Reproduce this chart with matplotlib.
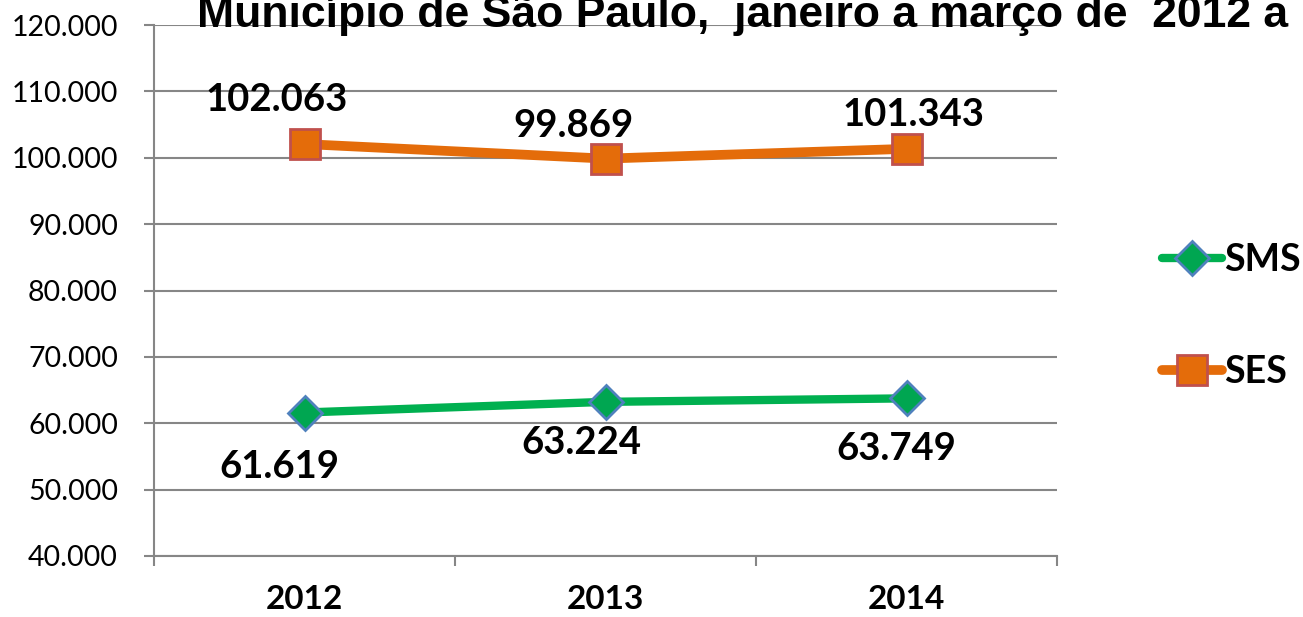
import matplotlib
matplotlib.use("Agg")
import matplotlib.pyplot as plt
from matplotlib.ticker import FuncFormatter

plt.rcParams['font.family'] = ['Lato', 'DejaVu Sans']

# -----------------------------
# Dados
# -----------------------------
anos = ["2012", "2013", "2014"]
sms = [61619, 63224, 63749]
ses = [102063, 99869, 101343]

titulo = "Município de São Paulo,  janeiro a março de  2012 a"

# deslocamentos dos rótulos (pixels)
off_ses = [(-28, 44), (-32, 33), (7, 34)]
off_sms = [(-25, -54), (-24, -41), (-10, -51)]

W, H = 1303, 617
fig = plt.figure(figsize=(W / 100, H / 100), dpi=100)
ax = fig.add_axes([154 / W, 1 - 556 / H, (1057 - 154) / W, (556 - 25) / H])

x = [i + 0.5 for i in range(len(anos))]

ax.plot(x, sms, color="#00B050", linewidth=6, solid_capstyle="round",
        marker="D", markersize=17, markerfacecolor="#00A651",
        markeredgecolor="#4F81BD", markeredgewidth=2, label="SMS", zorder=3)
ax.plot(x, ses, color="#E46C0A", linewidth=7, solid_capstyle="round",
        marker="s", markersize=21, markerfacecolor="#E46C0A",
        markeredgecolor="#C0504D", markeredgewidth=2, label="SES", zorder=3)

for xi, v, (dx, dy) in zip(x, ses, off_ses):
    ax.annotate(f"{v:,}".replace(",", "."), (xi, v), xytext=(dx, dy),
                textcoords="offset pixels", ha="center", va="center",
                fontsize=27.5, fontweight="bold")
for xi, v, (dx, dy) in zip(x, sms, off_sms):
    ax.annotate(f"{v:,}".replace(",", "."), (xi, v), xytext=(dx, dy),
                textcoords="offset pixels", ha="center", va="center",
                fontsize=27.5, fontweight="bold")

ax.set_xlim(0, 3)
ax.set_ylim(40000, 120000)
ax.set_yticks(range(40000, 120001, 10000))
ax.yaxis.set_major_formatter(FuncFormatter(lambda v, p: f"{int(v):,}".replace(",", ".")))
ax.set_xticks([0, 1, 2, 3])
ax.set_xticklabels([])
ax.set_xticks(x, minor=True)
ax.set_xticklabels(anos, minor=True, fontsize=24, fontweight="bold")
ax.tick_params(axis="x", which="minor", length=0, pad=21)
ax.tick_params(axis="x", which="major", length=7, width=1.5, color="#868686", direction="out")
ax.tick_params(axis="y", length=7, width=1.5, color="#868686", labelsize=20.5, pad=19)

ax.grid(axis="y", color="#868686", linewidth=1.5)
ax.set_axisbelow(True)
for s in ["top", "right"]:
    ax.spines[s].set_visible(False)
for s in ["left", "bottom"]:
    ax.spines[s].set_color("#868686")
    ax.spines[s].set_linewidth(1.5)

leg = fig.legend(loc="center left", bbox_to_anchor=(1162 / W, 1 - 316 / H),
                 frameon=False, handlelength=1.6, handletextpad=0.05,
                 labelspacing=2.1, borderaxespad=0, borderpad=0,
                 prop={"size": 27, "weight": "bold"})

fig.text(197 / W, 1 - 27 / H, titulo, fontsize=32, fontweight="bold",
         family=["Liberation Sans Narrow", "Liberation Sans", "DejaVu Sans"],
         va="baseline", ha="left")

fig.savefig("out.png", dpi=100)
